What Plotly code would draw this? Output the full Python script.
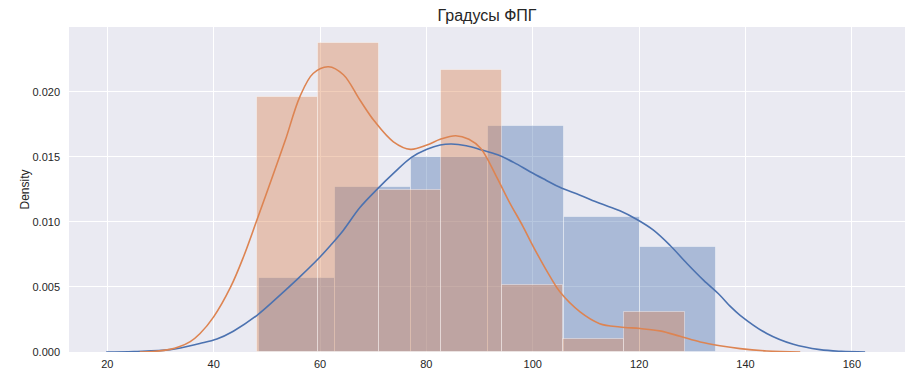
import plotly.graph_objects as go

# Histogram bins (density)
blue_start = 48.53
blue_width = 14.325
blue_heights = [0.00567, 0.01267, 0.0150, 0.01739, 0.01039, 0.00808]

orange_start = 48.15
orange_width = 11.51
orange_heights = [0.01963, 0.02377, 0.01241, 0.02170, 0.00515, 0.00100, 0.00308]

# KDE curves
blue_kde_x = [19.8, 25.0, 31.8, 37.4, 40.6, 43.7, 48.1, 53.1, 56.2, 60.0, 62.0, 64.4, 67.5, 70.9,
              73.8, 77.2, 80.1, 82.6, 84.7, 87.5, 90.2, 93.4, 96.5, 99.5, 102.5, 105.1, 108.9,
              112.6, 116.4, 119.6, 122.7, 125.8, 129.0, 132.1, 135.2, 137.1, 139.0, 144.0,
              149.0, 154.0, 158.0, 162.5]
blue_kde_y = [0.0, 0.00004, 0.00018, 0.00066, 0.00100, 0.00160, 0.00280, 0.00460, 0.00577,
              0.0073, 0.0082, 0.00936, 0.01110, 0.01257, 0.01372, 0.01495, 0.01557, 0.0159,
              0.01598, 0.01585, 0.01555, 0.01515, 0.01455, 0.01385, 0.01320, 0.01265, 0.01205,
              0.01142, 0.01085, 0.01018, 0.00936, 0.0082, 0.0068, 0.00552, 0.00436, 0.00352,
              0.00282, 0.00142, 0.00059, 0.00018, 0.00005, 0.0]

orange_kde_x = [26.1, 29.0, 31.8, 33.5, 35.6, 37.4, 40.0, 43.2, 45.6, 48.1, 51.5, 53.5, 56.2,
                58.7, 61.6, 64.4, 67.5, 70.3, 73.8, 77.0, 80.1, 82.6, 85.5, 88.0, 90.2, 93.2,
                95.5, 98.2, 100.1, 103.3, 105.1, 108.9, 112.6, 116.4, 120.2, 123.9, 127.7,
                131.5, 135.2, 139.0, 144.0, 150.3]
orange_kde_y = [0.0, 0.00005, 0.0002, 0.0004, 0.0008, 0.0014, 0.0027, 0.0050, 0.0073, 0.0101,
                0.01398, 0.0163, 0.0196, 0.0214, 0.02192, 0.0213, 0.01936, 0.0177, 0.01615,
                0.01557, 0.0159, 0.01634, 0.01662, 0.01635, 0.01565, 0.01346, 0.0116, 0.00962,
                0.0081, 0.00577, 0.00462, 0.00308, 0.00218, 0.00192, 0.0018, 0.00162, 0.00121,
                0.00077, 0.00048, 0.00026, 0.00008, 0.0]

x_ticks = [20, 40, 60, 80, 100, 120, 140, 160]
y_ticks = [0.0, 0.005, 0.010, 0.015, 0.020]

BLUE = "#4C72B0"
ORANGE = "#DD8452"

def centers(start, width, n):
    return [start + width * (i + 0.5) for i in range(n)]

fig = go.Figure()
fig.add_trace(go.Bar(
    x=centers(blue_start, blue_width, len(blue_heights)), y=blue_heights, width=blue_width,
    marker=dict(color="rgba(76,114,176,0.4)", line=dict(color="rgba(255,255,255,0.4)", width=1)),
    showlegend=False))
fig.add_trace(go.Bar(
    x=centers(orange_start, orange_width, len(orange_heights)), y=orange_heights, width=orange_width,
    marker=dict(color="rgba(221,132,82,0.4)", line=dict(color="rgba(255,255,255,0.4)", width=1)),
    showlegend=False))
fig.add_trace(go.Scatter(x=blue_kde_x, y=blue_kde_y, mode="lines",
                         line=dict(color=BLUE, width=1.6, shape="spline", smoothing=1.0),
                         showlegend=False))
fig.add_trace(go.Scatter(x=orange_kde_x, y=orange_kde_y, mode="lines",
                         line=dict(color=ORANGE, width=1.6, shape="spline", smoothing=1.0),
                         showlegend=False))

fig.update_layout(
    width=921, height=378,
    margin=dict(l=69, r=16, t=27, b=26, autoexpand=False),
    paper_bgcolor="white", plot_bgcolor="#EAEAF2",
    barmode="overlay", bargap=0,
    font=dict(family="Liberation Sans, Arial, sans-serif", size=11, color="#262626"),
    title=dict(text="Градусы ФПГ", x=0.5, xanchor="center", xref="paper",
               yref="container", y=1 - 15 / 378, yanchor="middle",
               font=dict(size=16, color="#262626")),
)
fig.update_xaxes(range=[12.8, 170.0], tickvals=x_ticks, showgrid=True, gridcolor="white",
                 gridwidth=1, zeroline=False, showline=False, ticks="", ticklabelstandoff=4,
                 automargin=False)
fig.update_yaxes(range=[0, 0.02497], tickvals=y_ticks, tickformat=".3f", showgrid=True,
                 gridcolor="white", gridwidth=1, zeroline=False, showline=False, ticks="",
                 ticklabelstandoff=8, automargin=False,
                 title=dict(text="Density", font=dict(size=12, color="#262626"), standoff=0))

fig.write_html("out.html", config={"displayModeBar": False},
               post_script="document.body.style.margin='0';document.body.style.overflow='hidden';")
